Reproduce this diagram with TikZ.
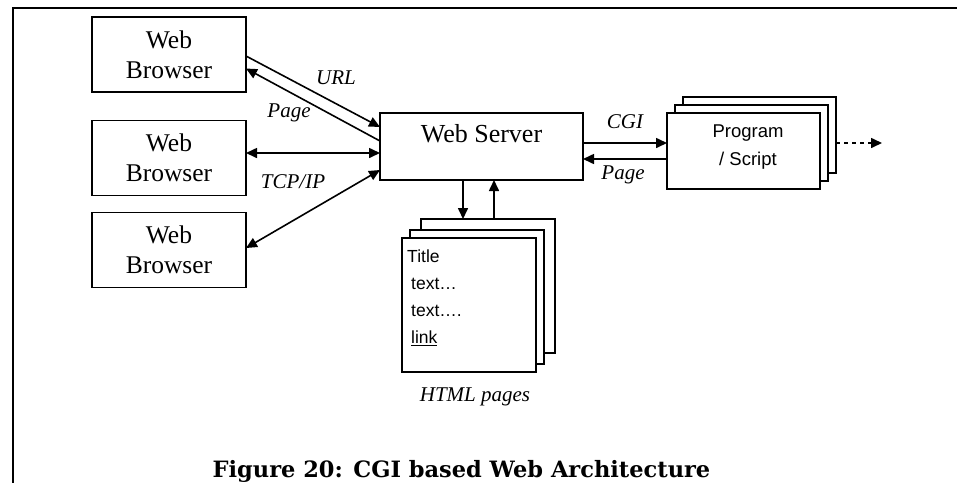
\documentclass[tikz,border=0pt]{standalone}
\usepackage{fontspec}
\setmainfont{Liberation Serif}
\newfontfamily\sansf{Liberation Sans}
\newfontfamily\capf{DejaVu Serif}
\usetikzlibrary{arrows.meta}
\begin{document}
\begin{tikzpicture}[x=1pt,y=-1pt,
  box/.style={draw,line width=1.6pt,fill=white,inner sep=0pt,outer sep=0pt},
  browser/.style={box,minimum width=154pt,minimum height=75pt,align=center,font=\fontsize{25.5}{30}\selectfont},
  prog/.style={box,minimum width=153pt,minimum height=76pt},
  page/.style={box,minimum width=134pt,minimum height=134pt},
  lab/.style={font=\fontsize{21}{24}\selectfont\itshape,inner sep=0pt},
  conn/.style={line width=1.6pt,-{Triangle[length=11pt,width=10pt]}},
  dconn/.style={line width=1.6pt,{Triangle[length=11pt,width=10pt]}-{Triangle[length=11pt,width=10pt]}}
]
\useasboundingbox (0,0) rectangle (957,483);
% frame
\draw[line width=2pt] (12,8) -- (957,8);
\draw[line width=2pt] (13,8) -- (13,483);
% browsers
\node[browser] (b1) at (169,54.5) {Web\\Browser};
\node[browser] (b2) at (169,158) {Web\\Browser};
\node[browser] (b3) at (169,250) {Web\\Browser};
% server
\node[box,minimum width=203pt,minimum height=67pt] (s) at (481.5,146.5) {};
\node[anchor=base,inner sep=0pt,font=\fontsize{26}{30}\selectfont] (stext) at (481.5,142) {Web Server};
% program boxes
\node[prog] (p3) at (759.5,135) {};
\node[prog] (p2) at (751.5,143) {};
\node[prog] (p1) at (743.5,151) {};
\node[align=center,inner sep=0pt,font=\sansf\fontsize{18.5}{28}\selectfont] (ptext) at (748,147) {Program\\/ Script};
% html pages
\node[page] (h3) at (488,286) {};
\node[page] (h2) at (477,297) {};
\node[page] (h1) at (469,305) {};
\node[anchor=north west,align=left,inner sep=0pt,font=\sansf\fontsize{17.5}{27}\selectfont] (htext) at (407,250)
  {Title\\\hspace*{4pt}text…\\\hspace*{4pt}text….\\\hspace*{4pt}\underline{link}};
% browser-server connectors
\draw[conn] ([yshift=-1.5pt]b1.east) -- ([yshift=19.5pt]s.west);
\draw[conn] ([yshift=5.5pt]s.west) -- ([yshift=-14pt]b1.east);
\draw[dconn] ([yshift=5pt]b2.east) -- ([yshift=-6.5pt]s.west);
\draw[dconn] ([yshift=2pt]b3.east) -- ([yshift=-23.5pt]s.west);
% server-program connectors
\draw[conn] ([yshift=3.5pt]s.east) -- ([yshift=8pt]p1.west);
\draw[conn] ([yshift=-8pt]p1.west) -- ([yshift=-12.5pt]s.east);
\coordinate (dend) at ([xshift=46pt,yshift=-8pt]p3.east);
\draw[line width=1.6pt,dash pattern=on 4pt off 4pt,-{Triangle[length=11pt,width=10pt]}] ([yshift=-8pt]p3.east) -- (dend);
% server-pages connectors
\draw[conn] ([xshift=-18.5pt]s.south) -- ([xshift=-25pt]h3.north);
\draw[conn] ([xshift=6pt]h3.north) -- ([xshift=12.5pt]s.south);
% labels
\node[lab] (lurl) at (336,78) {URL};
\node[lab] (lpage1) at (289,113) {Page};
\node[lab] (ltcp) at (293,182) {TCP/IP};
\node[lab] (lcgi) at (625,122) {CGI};
\node[lab] (lpage2) at (623,175) {Page};
\node[lab] (lhtml) at (475,397) {HTML pages};
% caption
\node[inner sep=0pt,font=\capf\fontsize{22.5}{28}\selectfont\bfseries] (cap) at (461.5,471) {Figure 20: CGI based Web Architecture};
\end{tikzpicture}
\end{document}
